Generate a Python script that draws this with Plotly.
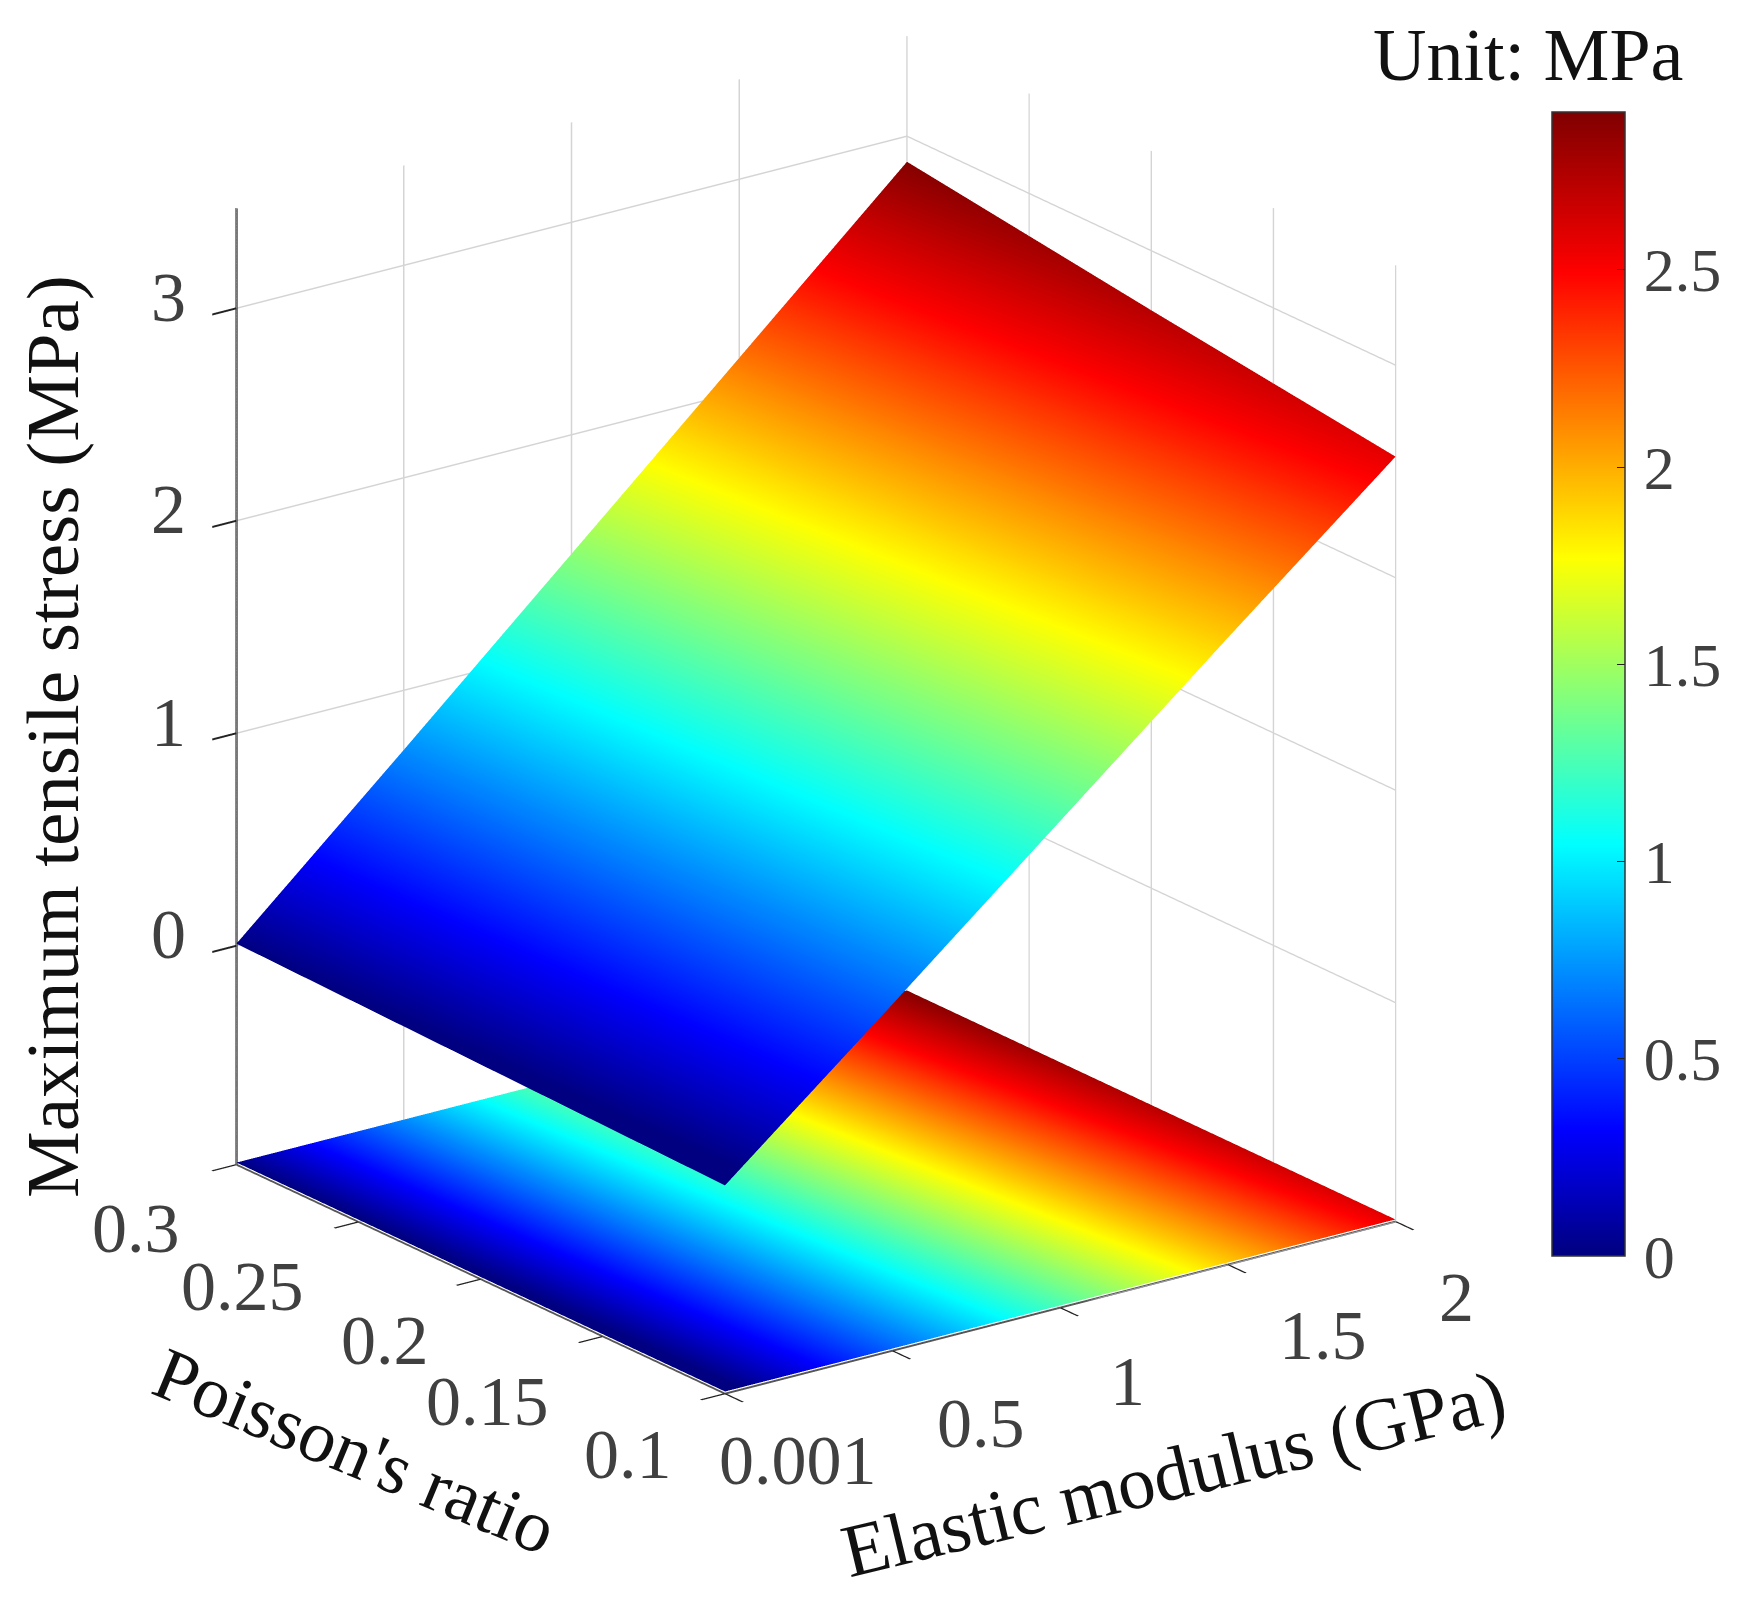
import plotly.graph_objects as go

elastic_modulus = [0.001, 0.5, 1.0, 1.5, 2.0]
poisson_ratio = [0.1, 0.2, 0.3]
tensile_stress = [
    [-0.05, 0.60, 1.26, 1.92, 2.57],
    [-0.02, 0.66, 1.35, 2.04, 2.72],
    [0.01, 0.72, 1.44, 2.16, 2.88],
]
floor_level = [[-1.02] * 5, [-1.02] * 5, [-1.02] * 5]
z_floor = -1.03
z_top = 3.47

x_ticks = [0.001, 0.5, 1, 1.5, 2]
x_labels = ["0.001", "0.5", "1", "1.5", "2"]
y_ticks = [0.1, 0.15, 0.2, 0.25, 0.3]
y_labels = ["0.1", "0.15", "0.2", "0.25", "0.3"]
z_ticks = [0, 1, 2, 3]
z_labels = ["0", "1", "2", "3"]
cbar_ticks = [0, 0.5, 1, 1.5, 2, 2.5]
cbar_labels = ["0", "0.5", "1", "1.5", "2", "2.5"]

# label offsets from their tick, screen pixels (right, up)
x_offsets = [(73, -67), (89, -73), (67, -74), (95, -71), (61, -76)]
y_offsets = [(-97, -61), (-115, -65), (-96, -61), (-116, -65), (-100, -64)]
z_offsets = [(-68, 11), (-68, 11), (-68, 11), (-68, 11)]

jet = [
    [0.0, "rgb(0,0,128)"], [0.11, "rgb(0,0,255)"], [0.36, "rgb(0,255,255)"],
    [0.61, "rgb(255,255,0)"], [0.86, "rgb(255,0,0)"], [1.0, "rgb(128,0,0)"],
]
SERIF = "Liberation Serif"
flat = dict(ambient=1, diffuse=0, specular=0, roughness=1, fresnel=0)

fig = go.Figure()
fig.add_trace(go.Surface(
    x=elastic_modulus, y=poisson_ratio, z=tensile_stress, surfacecolor=tensile_stress,
    colorscale=jet, cmin=0, cmax=2.9, lighting=flat, hoverinfo="skip",
    colorbar=dict(
        thickness=73, thicknessmode="pixels", len=1144, lenmode="pixels",
        x=1544 / 1751, xanchor="left", xpad=0, y=(1610 - 1248) / 1610, yanchor="bottom", ypad=0,
        tickvals=cbar_ticks, ticktext=["\u200a" + t for t in cbar_labels],
        ticks="inside", ticklen=8, tickcolor="#222",
        tickfont=dict(family=SERIF, size=62, color="#404040"),
        outlinecolor="#333", outlinewidth=1.5,
    ),
))
fig.add_trace(go.Surface(
    x=elastic_modulus, y=poisson_ratio, z=floor_level, surfacecolor=tensile_stress,
    colorscale=jet, cmin=0, cmax=2.9, lighting=flat, showscale=False, hoverinfo="skip",
))
fig.add_trace(go.Scatter3d(
    x=[x_ticks[0], x_ticks[0]], y=[y_ticks[-1], y_ticks[-1]], z=[z_floor, z_top],
    mode="lines", line=dict(color="#111111", width=5), showlegend=False, hoverinfo="skip",
))

def axis(vals, rng):
    return dict(
        title=dict(text=""), range=rng, tickmode="array", tickvals=vals, showticklabels=False,
        showgrid=True, gridcolor="#d4d4d4", gridwidth=3, zeroline=False,
        showline=True, linecolor="#555", linewidth=4,
        ticks="outside", ticklen=30, tickcolor="#222", tickwidth=4,
        showbackground=False, showspikes=False, mirror=False,
    )

def tick_note(x, y, z, text, off):
    return dict(
        x=x, y=y, z=z, text=text, showarrow=False, xanchor="center", yanchor="middle",
        xshift=off[0], yshift=off[1], font=dict(family=SERIF, size=70, color="#404040"),
    )

notes = []
for v, t, o in zip(x_ticks, x_labels, x_offsets):
    notes.append(tick_note(v, 0.1, z_floor, t, o))
for v, t, o in zip(y_ticks, y_labels, y_offsets):
    notes.append(tick_note(0.001, v, z_floor, t, o))
for v, t, o in zip(z_ticks, z_labels, z_offsets):
    notes.append(tick_note(0.001, 0.3, v, t, o))

def title_note(text, x, y, angle, size=75):
    return dict(
        text=text, x=x / 1751, y=1 - y / 1610, xref="paper", yref="paper", showarrow=False,
        xanchor="center", yanchor="middle", textangle=angle,
        font=dict(family=SERIF, size=size, color="#111"),
    )

fig.update_layout(
    width=1751, height=1610, paper_bgcolor="white",
    margin=dict(l=0, r=0, t=0, b=0),
    scene=dict(
        domain=dict(x=[0, 1616 / 1751], y=[196 / 1610, 1]),
        xaxis=axis(x_ticks, [0.001, 2]),
        yaxis=axis(y_ticks, [0.1, 0.3]),
        zaxis=axis(z_ticks, [z_floor, z_top]),
        aspectmode="manual", aspectratio=dict(x=1.180, y=1.162, z=1.442),
        camera=dict(
            projection=dict(type="orthographic"),
            eye=dict(x=-0.814, y=-1.10, z=0.506), up=dict(x=0, y=0, z=1),
            center=dict(x=0, y=0, z=0),
        ),
        annotations=notes,
    ),
    annotations=[
        title_note("Unit: MPa", 1520, 47, 0, 74),
        title_note("Maximum tensile stress (MPa)", 45, 729, -90),
        title_note("Poisson's ratio", 347, 1443, 22.5, 74),
        title_note("Elastic modulus (GPa)", 1165, 1465, -13.5),
    ],
)
fig.write_html("out.html")
